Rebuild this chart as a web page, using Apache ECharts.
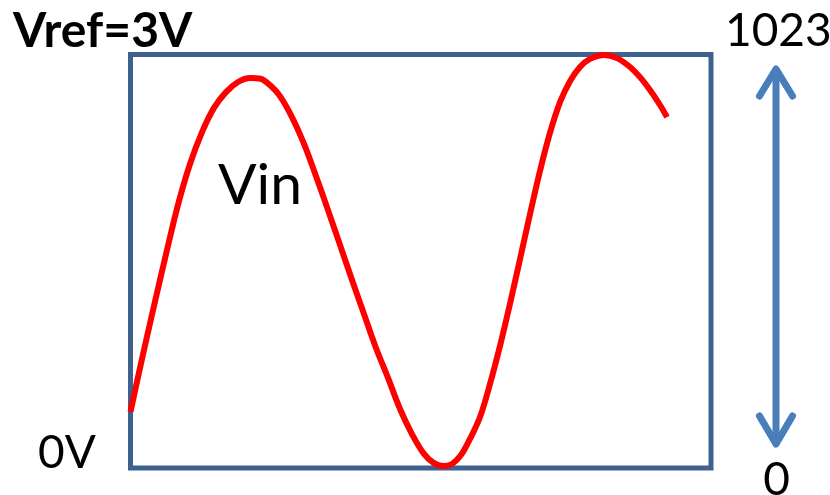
<!DOCTYPE html>
<html>
<head>
<meta charset="utf-8">
<script src="https://cdn.jsdelivr.net/npm/echarts@6/dist/echarts.min.js"></script>
<style>
html,body{margin:0;padding:0;background:#fff;}
#chart{width:830px;height:495px;}
</style>
</head>
<body>
<div id="chart"></div>
<script>
// time axis (arbitrary units, 0..100 across the frame)
const timeValues = [0, 1.98, 4.05, 6.12, 8.18, 10.25, 12.32, 14.38, 16.45, 18.52, 20.59, 22.40, 24.20,
  25.75, 27.82, 29.89, 31.96, 34.02, 36.09, 38.16, 40.22, 42.29, 44.36, 46.43, 48.49, 50.56, 52.28, 53.83,
  55.38, 56.93, 58.48, 60.21, 61.93, 63.65, 65.37, 67.10, 68.82, 70.54, 72.26, 73.99, 75.71, 77.43, 79.16, 81.57,
  83.81, 86.05, 87.77, 89.49, 91.21, 92.42];
// Vin expressed as ADC code (0..1023)
const vinValues = [139, 270, 401, 529, 651, 752, 831, 891, 930, 955, 965, 963, 945,
  920, 868, 802, 722, 638, 552, 465, 381, 297, 223, 146, 84, 35, 12, 5,
  10, 32, 72, 126, 208, 302, 406, 517, 628, 735, 829, 905, 957, 992, 1012, 1022,
  1014, 992, 967, 935, 898, 868];
const yMin = 0, yMax = 1023;
const labelVref = 'Vref=3V';
const labelZeroV = '0V';
const labelTop = '1023';
const labelBottom = '0';
const labelSeries = 'Vin';

const chart = echarts.init(document.getElementById('chart'));
const FONT = 'Lato, "Open Sans", sans-serif';
const ARROW = '#4a7ebb';

chart.setOption({
  animation: false,
  backgroundColor: '#ffffff',
  grid: {
    left: 130.5, top: 54.5, width: 580.5, height: 413.5,
    show: true, borderWidth: 5, borderColor: '#3f6190', backgroundColor: 'transparent'
  },
  xAxis: { type: 'value', min: 0, max: 100, show: false },
  yAxis: { type: 'value', min: yMin, max: yMax, show: false },
  series: [{
    type: 'line',
    name: labelSeries,
    data: timeValues.map((t, i) => [t, vinValues[i]]),
    smooth: 0.35,
    showSymbol: false,
    clip: false,
    lineStyle: { color: '#ff0000', width: 6, cap: 'butt', join: 'round' }
  }],
  graphic: [
    { type: 'text', x: 13, y: 32, style: { text: labelVref, font: 'bold 48px ' + FONT, fill: '#000', textVerticalAlign: 'middle' } },
    { type: 'text', x: 725, y: 31, style: { text: labelTop, font: '46px ' + FONT, fill: '#000', textVerticalAlign: 'middle' } },
    { type: 'text', x: 38, y: 453, style: { text: labelZeroV, font: '46px ' + FONT, fill: '#000', textVerticalAlign: 'middle' } },
    { type: 'text', x: 776.5, y: 480, style: { text: labelBottom, font: '46px ' + FONT, fill: '#000', textAlign: 'center', textVerticalAlign: 'middle' } },
    { type: 'text', x: 218, y: 186, style: { text: labelSeries, font: '57px ' + FONT, fill: '#000', textVerticalAlign: 'middle' } },
    { type: 'line', shape: { x1: 776, y1: 70, x2: 776, y2: 443 }, style: { stroke: ARROW, lineWidth: 7, lineCap: 'round' } },
    { type: 'polyline', shape: { points: [[759.5, 96], [776, 69], [792.5, 96]] }, style: { stroke: ARROW, fill: null, lineWidth: 7, lineCap: 'round', lineJoin: 'round' } },
    { type: 'polyline', shape: { points: [[759.5, 416], [776, 444], [792.5, 416]] }, style: { stroke: ARROW, fill: null, lineWidth: 7, lineCap: 'round', lineJoin: 'round' } }
  ]
});
</script>
</body>
</html>
